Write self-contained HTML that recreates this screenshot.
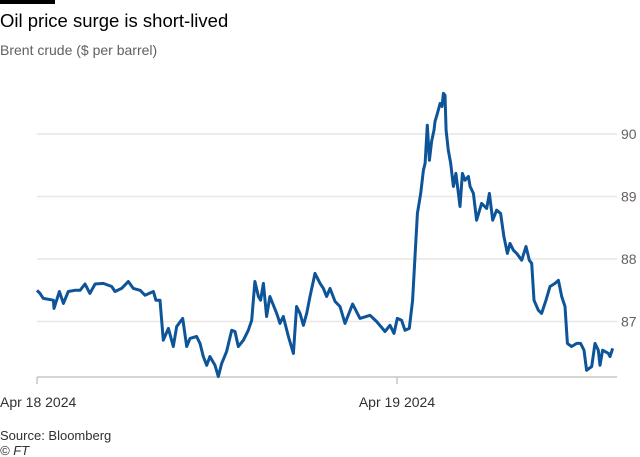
<!DOCTYPE html>
<html><head><meta charset="utf-8"><style>
body{margin:0;background:#fff;width:640px;height:457px;overflow:hidden;font-family:"Liberation Sans",sans-serif}
svg{display:block}
</style></head><body>
<svg width="640" height="457">
<rect x="0" y="0" width="55" height="4" fill="#000"/>
<text x="0" y="27" font-size="18.5" fill="#000">Oil price surge is short-lived</text>
<text x="0" y="55" font-size="14" fill="#66605c">Brent crude ($ per barrel)</text>
<g id="grid"></g>
<g id="xaxis"></g>
<path id="line" fill="none" stroke="#0d5499" stroke-width="3" stroke-linejoin="round"/>
<text x="0" y="440" font-size="13" fill="#33302e">Source: Bloomberg</text>
<text x="0" y="455" font-size="13" font-style="italic" fill="#33302e">© FT</text>
</svg>
<script>
const hours=[0,0.2,0.42,1.09,1.13,1.49,1.76,2.09,2.53,2.87,3.2,3.53,3.87,4.42,4.98,5.2,5.64,6.09,6.42,6.87,7.2,7.76,7.93,8.2,8.42,8.76,9.09,9.31,9.71,9.98,10.2,10.64,10.87,11.09,11.31,11.53,11.87,12.09,12.31,12.64,12.98,13.2,13.42,13.76,14.09,14.31,14.53,14.76,14.91,15.09,15.31,15.53,15.98,16.2,16.42,16.76,17.09,17.31,17.53,17.76,17.98,18.2,18.53,18.87,19.09,19.31,
19.53,19.87,20.2,20.53,21.04,21.53,22.2,22.64,23.2,23.53,23.8,24.02,24.31,24.53,24.82,25.04,25.2,25.36,25.58,25.76,25.87,26.02,26.16,26.31,26.47,26.53,26.69,26.87,27.0,27.09,27.2,27.27,27.42,27.58,27.76,27.93,28.09,28.2,28.36,28.53,28.76,28.87,29.09,29.31,29.64,29.98,30.16,30.38,30.64,30.91,31.13,31.36,31.53,31.76,31.98,32.31,32.6,32.82,32.98,33.13,33.42,33.64,33.93,34.2,34.53,34.76,34.98,35.2,35.36,35.64,35.98,36.24,36.47,36.64,36.98,37.2,37.42,37.53,37.71,38.09,38.2,38.38];
const prices=[87.50,87.45,87.37,87.34,87.21,87.48,87.29,87.48,87.50,87.50,87.60,87.45,87.60,87.61,87.56,87.48,87.53,87.64,87.53,87.50,87.42,87.48,87.34,87.34,86.70,86.89,86.60,86.92,87.05,86.60,86.73,86.76,86.65,86.44,86.30,86.44,86.30,86.12,86.33,86.52,86.86,86.84,86.60,86.70,86.86,87.02,87.64,87.40,87.34,87.61,87.08,87.40,87.13,86.97,87.08,86.76,86.49,87.24,87.13,86.94,87.13,87.40,87.77,87.61,87.53,87.40,
87.53,87.32,87.24,86.97,87.28,87.05,87.10,87.00,86.84,86.94,86.81,87.05,87.02,86.86,86.89,87.34,88.04,88.73,89.05,89.42,89.53,90.14,89.58,89.88,90.06,90.20,90.33,90.49,90.44,90.65,90.62,90.06,89.74,89.53,89.16,89.37,89.05,88.84,89.37,89.26,89.32,89.16,89.05,88.62,88.89,88.81,89.05,88.62,88.78,88.73,88.36,88.09,88.25,88.14,88.09,87.98,88.20,87.98,87.93,87.34,87.18,87.13,87.34,87.56,87.61,87.66,87.40,87.24,86.65,86.60,86.65,86.65,86.54,86.22,86.28,86.65,86.54,86.30,86.54,86.49,86.44,86.57];
const yTicks=[87,88,89,90];
const xTickHours=[0,24];
const xTickLabels=["Apr 18 2024","Apr 19 2024"];
const NS="http://www.w3.org/2000/svg";
const X0=37,PXH=15,Y90=134,PXV=62.5,X1=617,BASE=377;
const xs=h=>X0+h*PXH, ys=v=>Y90-(v-90)*PXV;
const grid=document.getElementById('grid');
yTicks.forEach(t=>{
 const l=document.createElementNS(NS,'line');
 l.setAttribute('x1',X0);l.setAttribute('x2',X1);l.setAttribute('y1',ys(t));l.setAttribute('y2',ys(t));
 l.setAttribute('stroke','#e9e6e3');l.setAttribute('stroke-width','1.5');
 
 
 grid.appendChild(l);
 const tx=document.createElementNS(NS,'text');
 tx.setAttribute('x',621);tx.setAttribute('y',ys(t)+5);tx.setAttribute('font-size','14');tx.setAttribute('fill','#66605c');
 tx.textContent=t;
 
 
 grid.appendChild(tx);
});
const xa=document.getElementById('xaxis');
const ax=document.createElementNS(NS,'line');
ax.setAttribute('x1',X0);ax.setAttribute('x2',X1);ax.setAttribute('y1',BASE);ax.setAttribute('y2',BASE);
ax.setAttribute('stroke','#ccc6c1');ax.setAttribute('stroke-width','1.5');


xa.appendChild(ax);
xTickHours.forEach((h,i)=>{
 const t=document.createElementNS(NS,'line');
 t.setAttribute('x1',xs(h));t.setAttribute('x2',xs(h));t.setAttribute('y1',BASE);t.setAttribute('y2',BASE+7);
 t.setAttribute('stroke','#ccc6c1');t.setAttribute('stroke-width','1.5');
 
 
 xa.appendChild(t);
 const tx=document.createElementNS(NS,'text');
 tx.setAttribute('x',i===0?0:xs(h));tx.setAttribute('y',BASE+30);
 tx.setAttribute('text-anchor',i===0?'start':'middle');
 tx.setAttribute('font-size','14');tx.setAttribute('fill','#33302e');
 tx.textContent=xTickLabels[i];
 
 
 xa.appendChild(tx);
});
document.getElementById('line').setAttribute('d',hours.map((h,i)=>(i?'L':'M')+xs(h).toFixed(1)+','+ys(prices[i]).toFixed(1)).join(''));
</script>
</body></html>
